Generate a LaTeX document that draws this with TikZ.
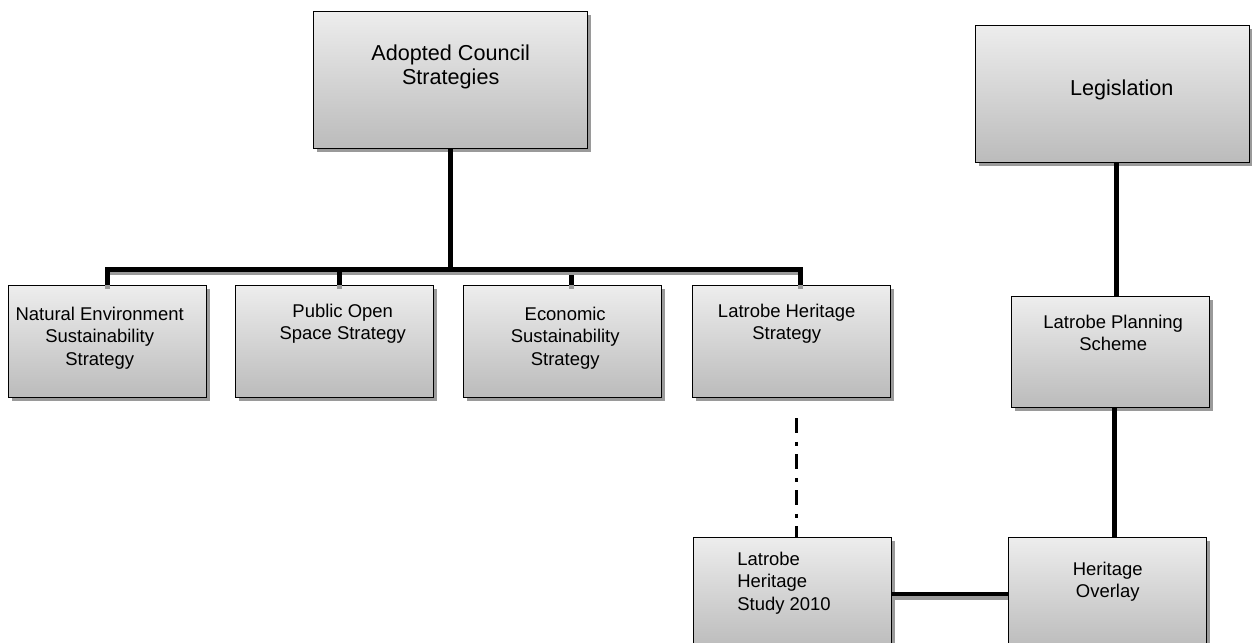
\documentclass[tikz,border=0pt]{standalone}
\usepackage{fontspec}
\setmainfont{Liberation Sans}
\usetikzlibrary{positioning, shadows, calc}
\definecolor{cShadow}{HTML}{9A9A9A}
\definecolor{cTop}{HTML}{EDEDED}
\definecolor{cBottom}{HTML}{BBBBBB}

\tikzset{
  orgbox/.style={draw, line width=0.8pt, top color=cTop, bottom color=cBottom,
    anchor=north west, minimum width=3.96cm, minimum height=2.24cm, inner sep=0pt,
    drop shadow={shadow xshift=0.06cm, shadow yshift=-0.06cm, fill=cShadow, opacity=1}},
  bigbox/.style={orgbox, minimum width=5.48cm, minimum height=2.74cm},
  boxtext/.style={align=center, inner sep=0pt, font=\fontsize{10.5}{12.8}\selectfont},
  bigtext/.style={boxtext, font=\fontsize{12.3}{13.8}\selectfont},
  conn/.style={line width=2.8pt},
  connsh/.style={conn, preaction={draw=cShadow, line width=2.8pt, transform canvas={yshift=-0.07cm}}},
  dashdot/.style={line width=2pt, dash pattern=on 0.3cm off 0.17cm on 0.08cm off 0.17cm},
}

\begin{document}
\begin{tikzpicture}
  \useasboundingbox (0,0) rectangle (25.04,-12.84);
  % top row
  \node[bigbox] (adopt) at (6.26,-0.22) {};
  \node[bigbox] (legis) at (19.5,-0.5) {};
  % strategies
  \node[orgbox] (nat) at (0.16,-5.7) {};
  \node[orgbox] (pub) at (4.70,-5.7) {};
  \node[orgbox] (eco) at (9.26,-5.7) {};
  \node[orgbox] (lhs) at (13.84,-5.7) {};
  \node[orgbox, minimum height=2.22cm] (plan) at (20.22,-5.92) {};
  % bottom row
  \node[orgbox] (study) at (13.86,-10.74) {};
  \node[orgbox] (over) at (20.16,-10.74) {};

  % box texts
  \node[bigtext, below=0.66cm of adopt.north] (adopt-t) {Adopted Council\\Strategies};
  \node[bigtext, below=1.08cm of legis.north, xshift=0.18cm] (legis-t) {Legislation};
  \node[boxtext, below=0.43cm of nat.north, xshift=-0.16cm] (nat-t) {Natural Environment\\Sustainability\\Strategy};
  \node[boxtext, below=0.37cm of pub.north, xshift=0.16cm] (pub-t) {Public Open\\Space Strategy};
  \node[boxtext, below=0.43cm of eco.north, xshift=0.05cm] (eco-t) {Economic\\Sustainability\\Strategy};
  \node[boxtext, below=0.37cm of lhs.north, xshift=-0.1cm] (lhs-t) {Latrobe Heritage\\Strategy};
  \node[boxtext, below=0.37cm of plan.north, xshift=0.05cm] (plan-t) {Latrobe Planning\\Scheme};
  \node[boxtext, align=left, below right=0.29cm and 0.88cm of study.north west] (study-t) {Latrobe\\Heritage\\Study 2010};
  \node[boxtext, below=0.49cm of over.north] (over-t) {Heritage\\Overlay};

  % connectors
  \coordinate (bus) at ($(adopt.south)+(0,-2.4)$);
  \foreach \n/\dx in {nat/0, pub/0.1, eco/0.17, lhs/0.17}
    \draw[connsh] (adopt.south) -- (bus) -| ([xshift=\dx cm]\n.north);
  \coordinate (lp) at ($(legis.south)+(0.08,0)$);
  \draw[conn] (lp) -- (lp |- plan.north);
  \coordinate (po) at ($(plan.south)+(0.07,0)$);
  \draw[conn] (po) -- (po |- over.north);
  \coordinate (dd) at ($(lhs.south)+(0.1,-0.4)$);
  \draw[dashdot] (dd) -- (dd |- study.north);
  \coordinate (so) at ($(study.north east)+(0,-1.14)$);
  \draw[connsh] (so) -- (so -| over.west);
\end{tikzpicture}
\end{document}
